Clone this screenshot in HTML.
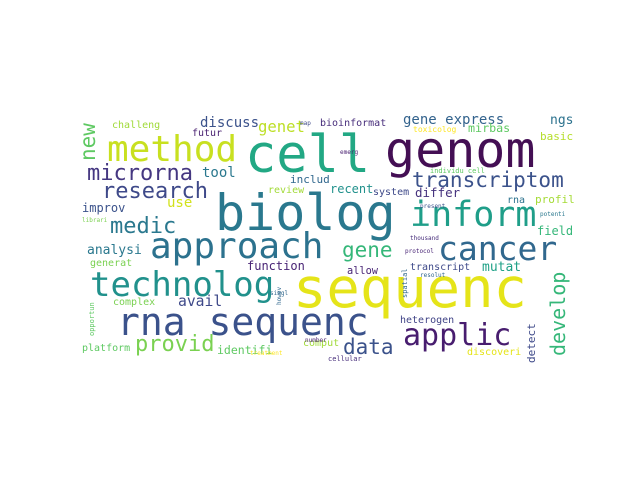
<!DOCTYPE html>
<html><head><meta charset="utf-8"><style>
html,body{margin:0;padding:0;background:#fff;width:640px;height:480px;overflow:hidden}
body{position:relative;font-family:"DejaVu Sans Mono","Liberation Mono",monospace}
span{position:absolute;line-height:1;white-space:pre}
.v{transform-origin:0 0;transform:rotate(-90deg)}
</style></head><body>
<span style="left:293px;top:261px;font-size:55.5px;color:#e5e419">sequenc</span>
<span style="left:215px;top:188px;font-size:50px;color:#2a788e">biolog</span>
<span style="left:245px;top:129px;font-size:52px;color:#22a884">cell</span>
<span style="left:385px;top:125px;font-size:50px;color:#440f54">genom</span>
<span style="left:107px;top:132px;font-size:36px;color:#c8e020">method</span>
<span style="left:112px;top:121px;font-size:10px;color:#a0da39">challeng</span>
<span style="left:200px;top:116px;font-size:14px;color:#3b528b">discuss</span>
<span style="left:258px;top:120px;font-size:15.6px;color:#bddf26">genet</span>
<span style="left:192px;top:129px;font-size:10px;color:#481f70">futur</span>
<span style="left:87px;top:163px;font-size:22px;color:#453781">microrna</span>
<span style="left:202px;top:166px;font-size:14px;color:#2a788e">tool</span>
<span style="left:102px;top:181px;font-size:22px;color:#3e4989">research</span>
<span style="left:268px;top:186px;font-size:10px;color:#a2da37">review</span>
<span style="left:290px;top:174px;font-size:11px;color:#31688e">includ</span>
<span style="left:167px;top:196px;font-size:14px;color:#d2e21b">use</span>
<span style="left:82px;top:202px;font-size:12px;color:#3b528b">improv</span>
<span style="left:110px;top:216px;font-size:22px;color:#2a788e">medic</span>
<span style="left:320px;top:119px;font-size:10px;color:#472d7b">bioinformat</span>
<span style="left:403px;top:113px;font-size:14px;color:#33638d">gene express</span>
<span style="left:550px;top:114px;font-size:13px;color:#2c728e">ngs</span>
<span style="left:413px;top:126px;font-size:8px;color:#fde725">toxicolog</span>
<span style="left:468px;top:123px;font-size:11.7px;color:#5ec962">mirbas</span>
<span style="left:540px;top:131px;font-size:11px;color:#b5de2b">basic</span>
<span style="left:412px;top:170px;font-size:21px;color:#3b528b">transcriptom</span>
<span style="left:330px;top:183px;font-size:12px;color:#21918c">recent</span>
<span style="left:373px;top:188px;font-size:10px;color:#3e4989">system</span>
<span style="left:415px;top:187px;font-size:12.5px;color:#46327e">differ</span>
<span style="left:507px;top:196px;font-size:10px;color:#2c728e">rna</span>
<span style="left:535px;top:194px;font-size:11px;color:#a5db36">profil</span>
<span style="left:410px;top:198px;font-size:35px;color:#1f9e89">inform</span>
<span style="left:537px;top:225px;font-size:12px;color:#35b779">field</span>
<span style="left:430px;top:168px;font-size:7px;color:#5ec962">individu cell</span>
<span style="left:150px;top:229px;font-size:36px;color:#2c728e">approach</span>
<span style="left:87px;top:244px;font-size:13px;color:#2a788e">analysi</span>
<span style="left:90px;top:259px;font-size:10px;color:#7ad151">generat</span>
<span style="left:247px;top:260px;font-size:12px;color:#482475">function</span>
<span style="left:90px;top:268px;font-size:34px;color:#21918c">technolog</span>
<span style="left:113px;top:298px;font-size:10px;color:#7ad151">complex</span>
<span style="left:178px;top:295px;font-size:14.7px;color:#3e4989">avail</span>
<span style="left:117px;top:303px;font-size:38px;color:#3b528b">rna sequenc</span>
<span style="left:135px;top:334px;font-size:22px;color:#7ad151">provid</span>
<span style="left:82px;top:344px;font-size:10px;color:#5ec962">platform</span>
<span style="left:217px;top:345px;font-size:11.5px;color:#5ec962">identifi</span>
<span style="left:303px;top:339px;font-size:10px;color:#a0da39">comput</span>
<span style="left:342px;top:240px;font-size:21px;color:#35b779">gene</span>
<span style="left:438px;top:232px;font-size:33px;color:#31688e">cancer</span>
<span style="left:347px;top:266px;font-size:10.3px;color:#482475">allow</span>
<span style="left:410px;top:263px;font-size:10px;color:#3e4989">transcript</span>
<span style="left:482px;top:261px;font-size:13px;color:#1fa187">mutat</span>
<span style="left:400px;top:316px;font-size:10px;color:#414487">heterogen</span>
<span style="left:403px;top:321px;font-size:30px;color:#481d6f">applic</span>
<span style="left:343px;top:337px;font-size:21px;color:#3b528b">data</span>
<span style="left:467px;top:348px;font-size:10px;color:#e5e419">discoveri</span>
<span style="left:410px;top:236px;font-size:6px;color:#472d7b">thousand</span>
<span style="left:405px;top:249px;font-size:6px;color:#482475">protocol</span>
<span style="left:420px;top:273px;font-size:6px;color:#31688e">resolut</span>
<span style="left:328px;top:356px;font-size:7px;color:#472d7b">cellular</span>
<span style="left:82px;top:218px;font-size:6px;color:#7ad151">librari</span>
<span style="left:300px;top:121px;font-size:6px;color:#3e4989">map</span>
<span style="left:340px;top:150px;font-size:6px;color:#481f70">emerg</span>
<span style="left:420px;top:204px;font-size:6px;color:#3b528b">present</span>
<span style="left:540px;top:212px;font-size:6px;color:#2a788e">potenti</span>
<span style="left:250px;top:351px;font-size:6px;color:#fde725">treatment</span>
<span style="left:270px;top:291px;font-size:6px;color:#31688e">singl</span>
<span style="left:305px;top:338px;font-size:6px;color:#481f70">number</span>
<span class="v" style="left:78px;top:161px;font-size:21px;color:#5ec962">new</span>
<span class="v" style="left:548px;top:356px;font-size:20px;color:#35b779">develop</span>
<span class="v" style="left:526px;top:363px;font-size:11px;color:#3e4989">detect</span>
<span class="v" style="left:89px;top:336px;font-size:7px;color:#5ec962">opportun</span>
<span class="v" style="left:402px;top:298px;font-size:7px;color:#31688e">spatial</span>
<span class="v" style="left:277px;top:305px;font-size:6px;color:#31688e">howev</span>
</body></html>
